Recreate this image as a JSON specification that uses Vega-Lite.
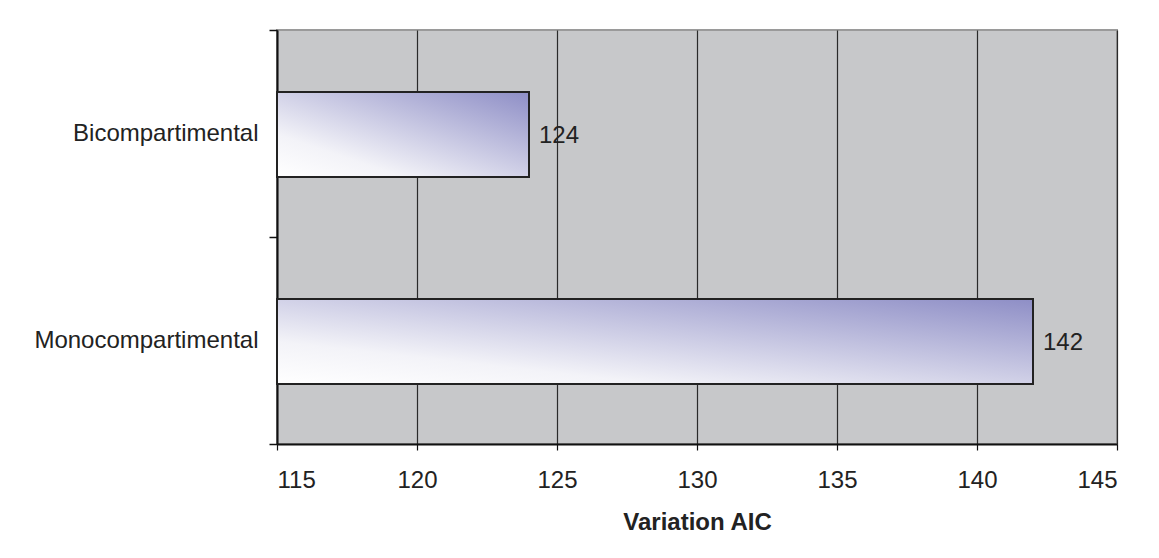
{
  "$schema": "https://vega.github.io/schema/vega-lite/v6.json",
  "autosize": {"type": "none"},
  "width": 840,
  "height": 414,
  "padding": {"left": 277, "top": 30, "right": 42, "bottom": 114},
  "background": "#ffffff",
  "config": {
    "font": "Liberation Sans",
    "view": {"fill": "#c7c8ca", "stroke": "#9a9a9a", "strokeWidth": 2}
  },
  "data": {
    "values": [
      {"model": "Bicompartimental", "aic": 124},
      {"model": "Monocompartimental", "aic": 142}
    ]
  },
  "encoding": {
    "y": {
      "field": "model",
      "type": "nominal",
      "sort": ["Bicompartimental", "Monocompartimental"],
      "scale": {"paddingInner": 0, "paddingOuter": 0},
      "axis": {
        "title": null,
        "tickBand": "extent",
        "domainColor": "#111111",
        "domainWidth": 2,
        "tickColor": "#111111",
        "tickWidth": 1.5,
        "tickSize": 8,
        "labelPadding": 11,
        "labelFontSize": 24,
        "labelLimit": 0,
        "labelColor": "#222222",
        "labelFont": "Liberation Sans",
        "grid": false
      }
    }
  },
  "layer": [
    {
      "mark": {
        "type": "bar",
        "height": {"band": 0.41},
        "yOffset": 1,
        "stroke": "#222222",
        "strokeWidth": 2,
        "color": {
          "gradient": "linear",
          "x1": 0, "y1": 1, "x2": 1, "y2": 0,
          "stops": [
            {"offset": 0, "color": "#ffffff"},
            {"offset": 0.25, "color": "#f3f3f8"},
            {"offset": 1, "color": "#8e8ec6"}
          ]
        }
      },
      "encoding": {
        "x": {
          "field": "aic",
          "type": "quantitative",
          "scale": {"domain": [115, 145], "zero": false, "nice": false},
          "axis": {
            "title": "Variation AIC",
            "values": [115, 120, 125, 130, 135, 140, 145],
            "grid": true,
            "gridColor": "#2a2a2a",
            "gridWidth": 1.2,
            "gridOpacity": 1,
            "domainColor": "#111111",
            "domainWidth": 2,
            "tickColor": "#111111",
            "tickWidth": 1.2,
            "tickSize": 6,
            "labelPadding": 18,
            "labelFontSize": 24,
            "labelColor": "#222222",
            "labelFont": "Liberation Sans",
            "titleFont": "Liberation Sans",
            "titleFontSize": 24,
            "titleFontWeight": "bold",
            "titleColor": "#222222",
            "titlePadding": 18
          }
        },
        "x2": {"datum": 115}
      }
    },
    {
      "mark": {
        "type": "text",
        "align": "left",
        "baseline": "middle",
        "dx": 10,
        "dy": 2,
        "fontSize": 24,
        "font": "Liberation Sans",
        "color": "#222222"
      },
      "encoding": {
        "x": {"field": "aic", "type": "quantitative"},
        "text": {"field": "aic", "type": "quantitative"}
      }
    }
  ]
}
